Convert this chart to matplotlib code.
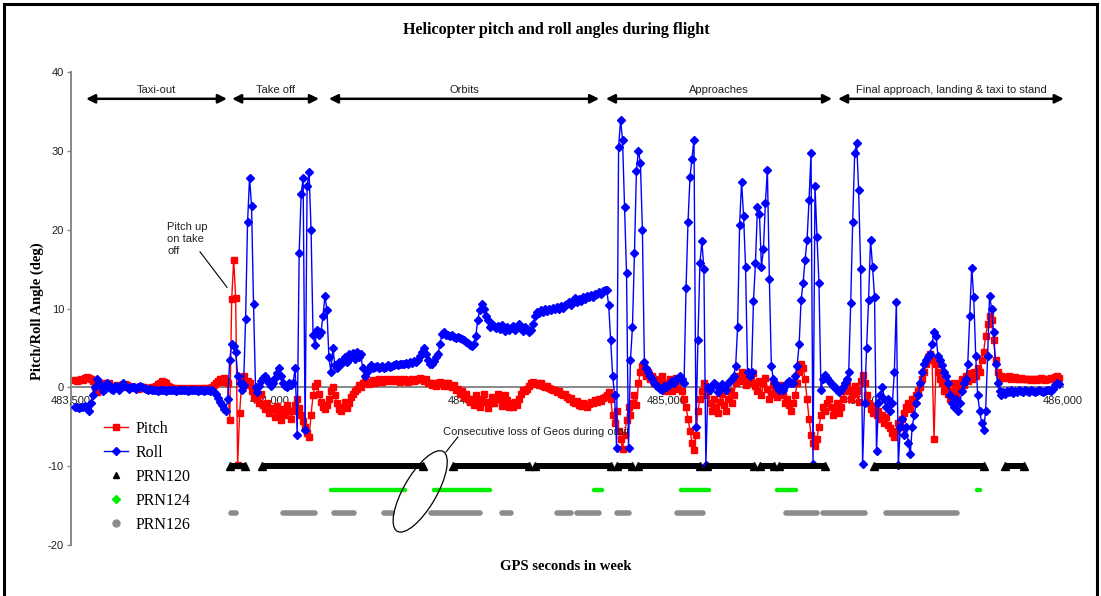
import numpy as np
import matplotlib
matplotlib.use('Agg')
import matplotlib.pyplot as plt
from matplotlib.patches import Ellipse, Rectangle
from matplotlib.lines import Line2D
from matplotlib.transforms import Bbox, IdentityTransform
from matplotlib.ticker import FuncFormatter

plt.rcParams['axes.unicode_minus'] = False

# attitude samples, one every 5 s starting at GPS second 483,510
t_start = 483510
t_step = 5

pitch = [
    0.9, 0.8, 0.9, 1.0, 0.9, 1.2, 1.3, 1.2, 1.1, 0.8, 0.0, -0.6, 0.2, 0.6, 0.5, 0.2, 0.4, 0.6, 0.2, 0.0,
    0.1, 0.3, 0.2, 0.0, 0.2, 0.4, 0.3, 0.1, 0.0, -0.1, 0.1, 0.0, -0.2, -0.1, 0.0, 0.1, -0.1, -0.2, -0.1, 0.0,
    0.1, 0.2, 0.4, 0.6, 0.8, 0.7, 0.5, 0.2, 0.0, -0.1, -0.2, -0.2, -0.1, -0.2, -0.2, -0.1, -0.2, -0.2, -0.1, -0.2,
    -0.2, -0.1, -0.2, -0.2, -0.1, -0.2, -0.1, -0.2, -0.1, 0.0, 0.3, 0.6, 0.8, 1.0, 0.7, 1.2, 0.8, 0.5, -4.2, 11.2,
    16.2, 11.3, -9.8, -3.2, 0.5, 1.5, 0.3, 0.8, 0.6, -0.5, -1.2, -0.5, -1.5, -2.0, -0.8, -2.2, -2.8, -2.0, -3.2, -2.6,
    -2.8, -3.8, -2.4, -3.2, -4.2, -2.8, -3.5, -2.2, -3.0, -4.0, -3.0, -2.2, -1.5, -2.6, -3.5, -4.3, -5.0, -5.8, -6.3, -3.5,
    -1.0, 0.2, 0.5, -0.8, -1.8, -2.5, -2.8, -2.3, -1.5, -0.5, 0.0, -1.0, -2.0, -2.8, -3.0, -2.5, -1.8, -2.6, -2.0, -1.2,
    -0.8, -0.5, -0.2, 0.3, 0.0, 0.5, 0.8, 0.6, 0.4, 0.7, 0.9, 0.6, 0.8, 1.0, 0.8, 0.7, 0.9, 1.1, 0.8, 0.9,
    1.0, 0.8, 0.9, 1.1, 0.7, 0.8, 1.0, 0.9, 0.7, 0.9, 1.1, 0.8, 0.9, 1.0, 1.2, 1.0, 0.8, 1.0, 0.6, 0.5,
    0.3, 0.6, 0.2, 0.5, 0.7, 0.4, 0.2, 0.5, 0.6, 0.2, 0.0, 0.3, -0.3, -0.2, -0.8, -0.5, -1.2, -0.8, -1.5, -1.8,
    -1.5, -2.2, -1.0, -1.8, -2.5, -1.5, -0.8, -1.8, -2.6, -2.0, -1.2, -2.0, -1.5, -0.8, -1.5, -2.4, -2.0, -1.0, -1.6, -2.5,
    -2.0, -2.5, -1.8, -2.2, -1.5, -0.8, -0.3, -0.5, -0.2, 0.2, 0.5, 0.7, 0.4, 0.6, 0.3, 0.5, 0.2, 0.0, 0.2, -0.1,
    -0.2, -0.4, -0.3, -0.6, -0.5, -0.8, -1.0, -0.9, -1.2, -1.5, -1.3, -1.8, -2.0, -1.7, -2.2, -2.4, -2.0, -2.3, -2.5, -2.1,
    -1.8, -2.0, -1.6, -1.8, -1.5, -1.7, -1.4, -1.2, -1.0, -0.6, -1.5, -3.5, -4.5, -3.0, -5.5, -6.5, -7.8, -6.0, -4.2, -2.5,
    -3.5, -2.0, -1.0, -2.3, 0.5, 2.0, 2.7, 2.5, 1.5, 2.0, 1.0, 1.5, 0.5, 1.0, 0.2, 0.8, 1.5, 0.5, -0.5, 0.3,
    1.0, -0.5, 0.5, 1.2, -0.2, 0.8, -0.5, -1.5, -2.5, -4.0, -5.5, -7.0, -8.0, -6.0, -3.0, -1.5, -0.5, 0.5, -1.0, -0.5,
    -2.0, -3.0, -1.5, -2.5, -3.2, -1.8, -0.8, -2.2, -3.0, -1.5, -0.5, -2.0, -1.0, 0.5, 1.5, 0.8, 2.0, 1.0, 0.3, 1.2,
    1.5, 0.5, 1.8, 0.2, -0.5, 0.8, -1.0, 0.5, 1.2, -0.2, -1.5, -0.8, 0.3, -0.5, -1.2, -0.5, 0.3, -1.0, -2.0, -1.5,
    -2.2, -3.0, -2.0, -1.0, 0.5, 2.0, 3.0, 2.5, 1.0, -1.5, -4.0, -6.0, -7.0, -7.5, -6.5, -5.0, -3.5, -2.5, -3.0, -2.0,
    -1.5, -2.5, -3.5, -2.8, -2.0, -3.2, -2.5, -1.5, -0.5, 0.5, -0.3, -1.5, -0.8, 0.2, -0.5, -1.8, 0.8, 1.6, 0.5, -1.0,
    -2.0, -2.8, -3.2, -2.5, -3.5, -3.0, -4.0, -3.5, -4.5, -3.8, -4.8, -5.2, -5.8, -6.3, -5.5, -4.5, -5.0, -4.0, -3.2, -2.5,
    -2.0, -2.8, -1.5, -2.0, -1.0, -0.5, 0.0, 1.0, 2.0, 3.0, 3.8, 4.2, 3.5, -6.6, 3.0, 2.0, 1.0, 0.5, -0.5, 0.3,
    -0.8, -1.5, -0.5, 0.5, -1.0, -0.3, 0.5, 1.0, 0.3, 1.5, 0.8, 1.8, 1.0, 2.0, 1.5, 2.5, 2.0, 3.5, 4.5, 6.5,
    8.0, 9.0, 8.5, 6.0, 3.5, 2.0, 1.5, 1.4, 1.2, 1.3, 1.2, 1.4, 1.1, 1.2, 1.3, 1.1, 1.0, 1.2, 1.1, 1.0,
    1.0, 1.1, 0.9, 1.0, 1.1, 0.9, 1.0, 1.2, 1.0, 0.9, 1.1, 1.0, 1.2, 1.1, 1.3, 1.4, 1.2,
]

roll = [
    -2.5, -2.5, -2.6, -2.5, -2.5, -2.4, -2.6, -3.0, -2.0, -1.0, 0.0, 1.0, 0.6, 0.2, -0.5, -0.2, 0.5, 0.3, -0.2, -0.4,
    0.2, 0.0, -0.3, 0.3, 0.5, 0.2, 0.0, -0.2, 0.0, 0.1, 0.0, -0.2, 0.0, 0.2, 0.0, -0.1, -0.2, -0.3, -0.2, -0.3,
    -0.4, -0.3, -0.5, -0.4, -0.3, -0.4, -0.5, -0.4, -0.4, -0.3, -0.4, -0.5, -0.4, -0.4, -0.3, -0.4, -0.4, -0.5, -0.4, -0.4,
    -0.4, -0.4, -0.5, -0.4, -0.4, -0.5, -0.4, -0.4, -0.5, -0.4, -0.6, -0.8, -1.3, -1.8, -2.2, -2.8, -3.0, -1.5, 3.5, 5.5,
    5.2, 4.5, 1.5, 0.5, -0.3, 0.3, 8.7, 21.0, 26.6, 23.0, 10.6, 0.0, -0.6, 0.2, 0.8, 1.2, 1.5, 1.0, 0.6, 0.2,
    0.5, 1.2, 1.8, 2.4, 1.5, 0.5, 0.2, 0.0, 0.5, 0.3, 0.6, 2.5, -6.0, 17.0, 24.5, 26.5, -5.4, 25.5, 27.3, 20.0,
    6.6, 5.4, 7.3, 6.6, 7.0, 9.0, 11.6, 9.8, 3.8, 2.0, 5.0, 2.8, 2.5, 3.2, 3.0, 3.5, 3.8, 3.2, 4.2, 3.8,
    4.3, 3.6, 4.5, 3.8, 4.2, 2.5, 1.5, 2.0, 2.5, 2.8, 2.5, 2.6, 2.7, 2.5, 2.6, 2.7, 2.5, 2.6, 2.8, 2.6,
    2.7, 2.8, 2.9, 2.8, 3.0, 2.9, 3.0, 3.1, 3.0, 3.2, 3.1, 3.3, 3.2, 3.5, 4.0, 4.5, 5.0, 4.2, 3.5, 3.0,
    3.0, 3.4, 3.8, 4.2, 5.5, 6.8, 7.0, 6.7, 6.6, 6.5, 6.6, 6.4, 6.3, 6.4, 6.2, 6.1, 6.0, 5.8, 5.6, 5.4,
    5.3, 5.5, 6.5, 8.5, 9.8, 10.6, 10.0, 9.0, 8.5, 7.6, 8.0, 7.8, 7.5, 7.8, 7.4, 7.9, 7.5, 7.2, 7.6, 7.3,
    7.5, 7.8, 7.3, 7.6, 8.0, 7.5, 7.2, 7.6, 7.4, 7.0, 7.3, 8.0, 9.0, 9.6, 9.4, 9.8, 9.6, 9.9, 9.7, 10.0,
    9.8, 10.1, 9.9, 10.2, 10.0, 10.3, 10.1, 10.4, 10.6, 10.8, 10.5, 11.0, 11.3, 10.8, 11.2, 11.0, 11.5, 11.2, 11.6, 11.4,
    11.7, 11.5, 11.9, 11.8, 12.1, 11.9, 12.2, 12.4, 12.3, 10.5, 6.0, 1.5, -1.0, -7.7, 30.5, 33.9, 31.4, 22.9, 14.5, -7.7,
    3.5, 7.7, 17.0, 27.5, 30.0, 28.5, 20.0, 3.2, 2.5, 2.0, 1.4, 1.0, 0.6, 0.3, 0.0, -0.2, -0.3, 0.2, 0.0, 0.2,
    0.5, 0.8, 0.6, 1.0, 1.2, 1.4, 1.0, 0.5, 12.6, 21.0, 26.7, 29.0, 31.4, -5.0, 6.0, 15.8, 18.5, 15.0, -9.9, 0.0,
    -0.3, 0.2, 0.6, 0.3, -0.6, -0.2, 0.4, 0.0, -0.3, 0.5, 0.8, 1.0, 1.5, 2.7, 7.7, 20.6, 26.1, 21.7, 15.3, 1.9,
    1.5, 2.0, 11.0, 15.8, 22.9, 22.0, 15.3, 17.5, 23.4, 27.6, 13.7, 2.7, 1.0, 0.5, 0.1, -0.3, 0.0, -0.3, 0.2, 0.6,
    0.8, 0.5, 0.6, 1.5, 2.7, 5.5, 11.1, 13.2, 16.2, 18.7, 23.8, 29.7, -9.7, 25.5, 19.1, 13.2, -0.3, 1.0, 1.6, 1.2,
    0.8, 0.5, 0.2, 0.0, -0.4, -0.6, -0.3, 0.0, 0.5, 1.0, 2.0, 10.7, 21.0, 29.7, 31.0, 25.0, 15.0, -9.7, -2.0, 5.0,
    11.1, 18.7, 15.3, 11.5, -8.1, -2.0, -1.0, 0.0, -1.5, -2.5, -1.5, -3.0, -2.0, 2.0, 10.8, -9.9, -5.0, -4.0, -6.0, -5.0,
    -7.0, -8.5, -5.0, -3.5, -2.0, -1.0, 0.5, 2.0, 3.0, 3.5, 3.8, 4.2, 5.5, 7.0, 6.5, 4.0, 3.5, 2.8, 2.0, 1.5,
    0.5, -1.0, -2.0, -2.5, -1.5, -3.0, -2.0, -0.5, 0.5, 1.0, 3.0, 9.0, 15.2, 11.5, 4.0, -1.0, -3.0, -4.5, -5.4, -3.0,
    4.0, 11.6, 10.0, 7.0, 3.0, 0.5, -0.5, -1.0, -0.6, -0.8, -0.5, -0.6, -0.4, -0.7, -0.5, -0.6, -0.4, -0.5, -0.6, -0.4,
    -0.5, -0.6, -0.4, -0.5, -0.6, -0.5, -0.4, -0.5, -0.6, -0.5, -0.4, -0.3, -0.5, -0.2, 0.3, 0.6, 0.4,
]

# GEO satellite tracking periods (start, end) in GPS seconds
prn120 = [(483901, 483939), (483981, 484387), (484463, 484654), (484669, 484861),
          (484876, 484914), (484929, 485085), (485103, 485221), (485236, 485272),
          (485284, 485400), (485524, 485801), (485854, 485902)]
prn124 = [(484154, 484341), (484416, 484555), (484819, 484837), (485038, 485107),
          (485278, 485326), (485784, 485790)]
prn126 = [(483902, 483915), (484035, 484114), (484164, 484212), (484290, 484310),
          (484408, 484530), (484585, 484608), (484726, 484759), (484774, 484830),
          (484877, 484905), (485026, 485092), (485303, 485381), (485396, 485502),
          (485555, 485734)]
prn_levels = {'PRN120': -10, 'PRN124': -13, 'PRN126': -16}

# flight phases shown with double arrows along the top
phases = [('Taxi-out', 483538, 483893), ('Take off', 483906, 484125),
          ('Orbits', 484150, 484831), ('Approaches', 484848, 485418),
          ('Final approach, landing & taxi to stand', 485433, 486002)]

RED = '#ff0000'
BLUE = '#0000ff'
GREEN = '#00ee00'
GREY = '#8c8c8c'
AXIS_GREY = '#888888'
SERIF = 'Liberation Serif'
SANS = 'Liberation Sans'

t = t_start + t_step * np.arange(len(pitch))

W, H = 1101, 596
fig = plt.figure(figsize=(W / 100, H / 100), dpi=100)
ax = fig.add_axes([71 / W, 1 - 545 / H, (1063 - 71) / W, (545 - 72) / H])
ax.set_xlim(483500, 486000)
ax.set_ylim(-20, 40)

ax.plot(t, pitch, color=RED, lw=1.0, marker='s', ms=4.4, mec=RED, mfc=RED, zorder=3)
ax.plot(t, roll, color=BLUE, lw=1.0, marker='D', ms=3.6, mec=BLUE, mfc=BLUE, zorder=4)

# tracking bars
for s, e in prn120:
    y = prn_levels['PRN120']
    ax.plot([s, e], [y, y], color='k', lw=4.3, solid_capstyle='butt', zorder=5)
    ax.plot([s, e], [y, y], ls='none', marker='^', ms=5.5, color='k', zorder=5)
for s, e in prn124:
    y = prn_levels['PRN124']
    ax.plot([s, e], [y, y], color=GREEN, lw=3.2, solid_capstyle='round', zorder=5)
for s, e in prn126:
    y = prn_levels['PRN126']
    ax.plot([s, e], [y, y], color=GREY, lw=4.0, solid_capstyle='round', zorder=5)

# axes styling
for side in ['top', 'right']:
    ax.spines[side].set_visible(False)
ax.spines['bottom'].set_position(('data', 0))
for side in ['left', 'bottom']:
    ax.spines[side].set_color(AXIS_GREY)
    ax.spines[side].set_linewidth(1.4)
    ax.spines[side].set_zorder(1)
ax.set_xticks(np.arange(483500, 486001, 500))
ax.set_yticks(np.arange(-20, 41, 10))
ax.xaxis.set_major_formatter(FuncFormatter(lambda v, p: f'{v:,.0f}'))
ax.tick_params(axis='x', length=0, pad=6, labelsize=8, labelcolor='#222222')
ax.tick_params(axis='y', length=3, width=1, color=AXIS_GREY, pad=2,
               labelsize=8, labelcolor='#222222')
for lab in ax.get_xticklabels() + ax.get_yticklabels():
    lab.set_fontfamily(SANS)
ax.patch.set_visible(False)

# phase arrows
arrow_y = 36.6
for name, s, e in phases:
    ax.annotate('', xy=(e, arrow_y), xytext=(s, arrow_y), annotation_clip=False,
                arrowprops=dict(arrowstyle='<|-|>', color='k', lw=1.8,
                                mutation_scale=13, shrinkA=0, shrinkB=0))
    ax.text((s + e) / 2, 37.7, name, ha='center', va='center', fontsize=8,
            family=SANS, color='#222222')

# pitch-up note, clipped like a text box that is too small
note = ax.text(483742, 21.0, 'Pitch up\non take\noff', ha='left', va='top',
               fontsize=8, family=SANS, color='#222222', linespacing=1.25)
note.set_clip_box(Bbox([[0, H - 254], [W, H]]))
note.set_clip_on(True)
ax.plot([483825, 483893], [17.2, 12.7], color='k', lw=0.8, zorder=6)

# loss-of-GEO note with ellipse
ax.text(484437, -5.7, 'Consecutive loss of Geos during orbit', ha='left',
        va='center', fontsize=8, family=SANS, color='#222222')
ax.plot([484445, 484475], [-8.2, -6.3], color='k', lw=0.8, zorder=6)
cx, cy = ax.transData.transform((484380, -13.2))
ax.add_patch(Ellipse((cx, cy), 92, 33, angle=60, fill=False, ec='k', lw=0.9,
                     transform=IdentityTransform(), zorder=6))

# legend
handles = [
    Line2D([], [], color=RED, lw=1.0, marker='s', ms=5, mec=RED, mfc=RED),
    Line2D([], [], color=BLUE, lw=1.0, marker='D', ms=4, mec=BLUE, mfc=BLUE),
    Line2D([], [], ls='none', marker='^', ms=5, color='k'),
    Line2D([], [], ls='none', marker='D', ms=4, color=GREEN),
    Line2D([], [], ls='none', marker='o', ms=5, color=GREY),
]
labels = ['Pitch', 'Roll', 'PRN120', 'PRN124', 'PRN126']
ax.legend(handles, labels, loc='upper left', bbox_to_anchor=(104 / W, 1 - 421 / H),
          bbox_transform=fig.transFigure, frameon=False,
          prop=dict(family=SERIF, size=11.5), handlelength=1.5, handletextpad=0.45,
          labelspacing=0.5, borderpad=0, borderaxespad=0)

# titles
fig.text(556 / W, 1 - 30 / H, 'Helicopter pitch and roll angles during flight',
         ha='center', va='center', fontsize=11.6, fontweight='bold', family=SERIF)
fig.text(37 / W, 1 - 311 / H, 'Pitch/Roll Angle (deg)', ha='center', va='center',
         rotation=90, fontsize=10.5, fontweight='bold', family=SERIF)
fig.text(566 / W, 1 - 566 / H, 'GPS seconds in week', ha='center', va='center',
         fontsize=10.5, fontweight='bold', family=SERIF)

# outer frame
fig.patches.append(Rectangle((4 / W, -0.05), (1097 - 4) / W, 1.05 - 4 / H,
                             transform=fig.transFigure, fill=False, ec='k', lw=2.2))

fig.savefig('out.png', dpi=100)
